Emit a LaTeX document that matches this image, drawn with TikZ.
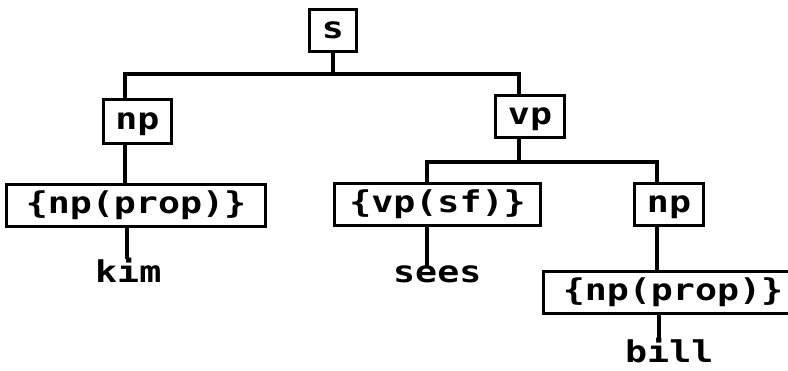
\documentclass[tikz,border=0pt]{standalone}
\usepackage{fontspec}
\newfontfamily\dotfont[FakeStretch=1.22]{DejaVu Sans Mono}
\tikzset{
  lbl/.style={font={\dotfont\bfseries\fontsize{30pt}{34pt}\selectfont}, inner sep=0pt},
  catbox/.style={lbl, draw, line width=3.4pt, text height=16.4pt, text depth=0pt},
  edge/.style={line width=3.4pt, line cap=rect}
}
\begin{document}
\begin{tikzpicture}[x=1pt,y=-1pt]
\useasboundingbox (0,0) rectangle (788,370);
\clip (0,0) rectangle (788,370);
% boxes
\node[catbox, minimum width=47pt, minimum height=42pt] (s) at (333,30.5) {s};
\node[catbox, minimum width=68pt, minimum height=44pt] (np1) at (137.5,121.5) {np};
\node[catbox, minimum width=259pt, minimum height=42pt] (npp1) at (136,205.5) {\{np(prop)\}};
\node[catbox, minimum width=69pt, minimum height=42pt] (vp) at (530,116.5) {vp};
\node[catbox, minimum width=206pt, minimum height=42pt] (vpsf) at (437.5,204.5) {\{vp(sf)\}};
\node[catbox, minimum width=69pt, minimum height=42pt] (np2) at (669,204.5) {np};
\node[catbox, minimum width=259pt, minimum height=42pt] (npp2) at (673,292.5) {\{np(prop)\}};
% words
\node[lbl, anchor=base west] (kim) at (95,282) {kim};
\node[lbl, anchor=base west] (sees) at (393,282) {sees};
\node[lbl, anchor=base west] (bill) at (625,362) {bill};
% junctions
\coordinate (j1l) at (125,74);
\coordinate (j1r) at (519,74);
\coordinate (j2l) at (427,162);
\coordinate (j2r) at (657,162);
\coordinate (kstem) at (127,0);
\coordinate (bstem) at (659,0);
% connectors
\draw[edge] (s.south) -- (s.south |- j1l);
\draw[edge] (j1l) -- (j1r);
\draw[edge] (j1l) -- (j1l |- np1.north);
\draw[edge] (j1r) -- (j1r |- vp.north);
\draw[edge] (np1.south -| j1l) -- (j1l |- npp1.north);
\draw[edge] (npp1.south -| kstem) -- (kim.north -| kstem);
\draw[edge] (vp.south -| j1r) -- (j1r |- j2l);
\draw[edge] (j2l) -- (j2r);
\draw[edge] (j2l) -- (j2l |- vpsf.north);
\draw[edge] (j2r) -- (j2r |- np2.north);
\draw[edge] (vpsf.south -| j2l) -- (sees.north -| j2l);
\draw[edge] (np2.south -| j2r) -- (npp2.north -| j2r);
\draw[edge] (npp2.south -| bstem) -- (bill.north -| bstem);
\end{tikzpicture}
\end{document}
